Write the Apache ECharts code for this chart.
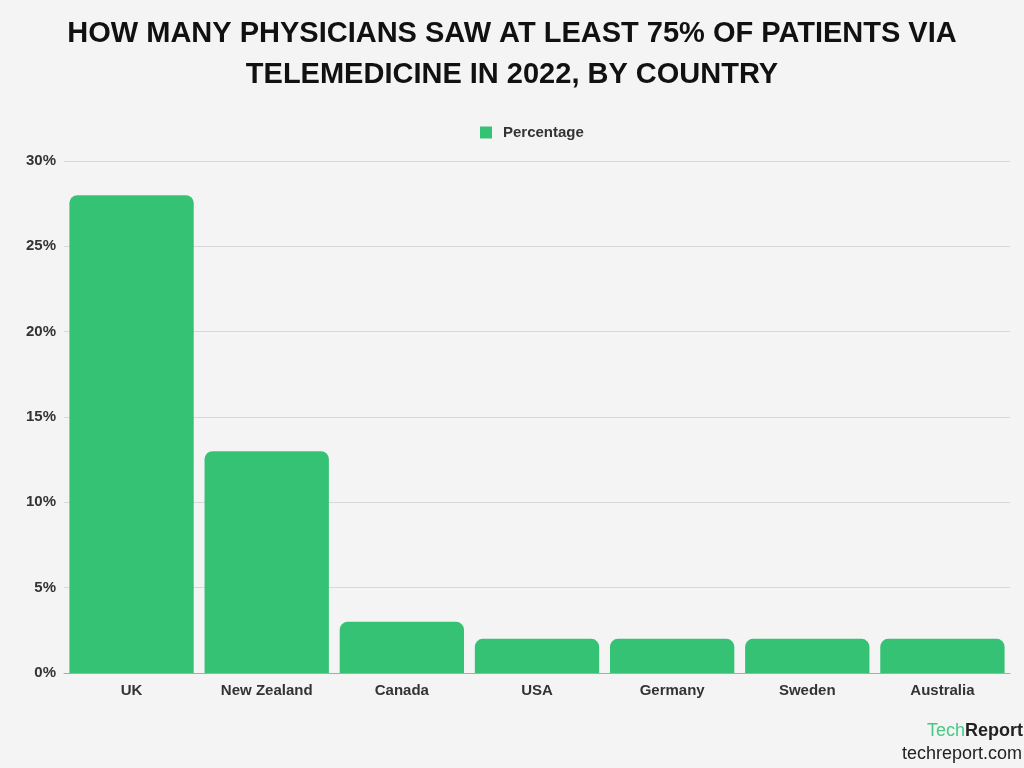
<!DOCTYPE html>
<html><head><meta charset="utf-8">
<script src="https://cdn.jsdelivr.net/npm/echarts@6/dist/echarts.min.js"></script>
<style>html,body{margin:0;padding:0;background:#f4f4f4}#c{width:1024px;height:768px}</style>
</head><body><div id="c"></div>
<script>
const categories = ['UK','New Zealand','Canada','USA','Germany','Sweden','Australia'];
const percentages = [28,13,3,2,2,2,2];
const seriesName = 'Percentage';

const F = '"Liberation Sans", Arial, sans-serif';
const chart = echarts.init(document.getElementById('c'));
chart.setOption({
  backgroundColor:'#f4f4f4',
  title:{
    text:'HOW MANY PHYSICIANS SAW AT LEAST 75% OF PATIENTS VIA\nTELEMEDICINE IN 2022, BY COUNTRY',
    left:'center', top:8,
    textStyle:{fontFamily:F, fontWeight:'bold', fontSize:29, color:'#111', lineHeight:41}
  },
  legend:{
    top:120, left:475, itemWidth:12, itemHeight:12, icon:'rect',
    textStyle:{fontFamily:F, fontWeight:'bold', fontSize:15, color:'#333', padding:[0,0,0,6]},
    data:[seriesName]
  },
  grid:{left:64, right:14, top:161, bottom:95, containLabel:false},
  xAxis:{
    type:'category', data:categories,
    axisLine:{lineStyle:{color:'#aaa'}}, axisTick:{show:false},
    axisLabel:{fontFamily:F, fontWeight:'bold', fontSize:15, color:'#333', margin:10}
  },
  yAxis:{
    type:'value', min:0, max:30, interval:5,
    axisLabel:{formatter:'{value}%', fontFamily:F, fontWeight:'bold', fontSize:15, color:'#333', margin:8},
    splitLine:{lineStyle:{color:'#d8d8d8'}}
  },
  series:[{
    name:seriesName, type:'bar', data:percentages, barCategoryGap:'8%',
    itemStyle:{color:'#36c275', borderRadius:[8,8,0,0]}
  }],
  graphic:[
    {type:'text', right:1, top:722, style:{rich:{a:{fill:'#45c985',fontSize:18,fontFamily:F},b:{fill:'#222',fontSize:18,fontWeight:'bold',fontFamily:F}}, text:'{a|Tech}{b|Report}'}},
    {type:'text', right:2, top:745, style:{text:'techreport.com', fill:'#222', fontSize:18, fontFamily:F}}
  ]
});
</script></body></html>
